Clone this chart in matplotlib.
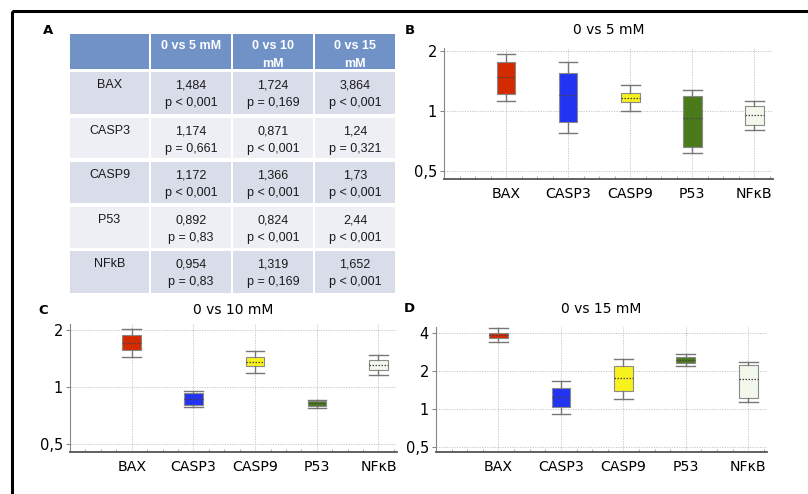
import matplotlib
matplotlib.use("Agg")
import matplotlib.pyplot as plt
from matplotlib.patches import Rectangle
from matplotlib.ticker import FixedLocator, FixedFormatter, MultipleLocator

# ---------------- data ----------------
genes = ["BAX", "CASP3", "CASP9", "P53", "NFκB"]
table_rows = ["BAX", "CASP3", "CASP9", "P53", "NFkB"]
table_headers = [["0 vs 5 mM"], ["0 vs 10", "mM"], ["0 vs 15", "mM"]]
fold_5 = ["1,484", "1,174", "1,172", "0,892", "0,954"]
pval_5 = ["p < 0,001", "p = 0,661", "p < 0,001", "p = 0,83", "p = 0,83"]
fold_10 = ["1,724", "0,871", "1,366", "0,824", "1,319"]
pval_10 = ["p = 0,169", "p < 0,001", "p < 0,001", "p < 0,001", "p = 0,169"]
fold_15 = ["3,864", "1,24", "1,73", "2,44", "1,652"]
pval_15 = ["p < 0,001", "p = 0,321", "p < 0,001", "p < 0,001", "p < 0,001"]

# box stats per panel: whisker low, q1, median, q3, whisker high
b_wlo = [1.12, 0.775, 1.00, 0.616, 0.80]
b_q1 = [1.22, 0.886, 1.11, 0.66, 0.85]
b_med = [1.49, 1.20, 1.16, 0.924, 0.954]
b_q3 = [1.77, 1.56, 1.23, 1.19, 1.064]
b_whi = [1.94, 1.77, 1.35, 1.28, 1.12]

c_wlo = [1.45, 0.79, 1.19, 0.78, 1.16]
c_q1 = [1.57, 0.805, 1.29, 0.796, 1.23]
c_med = [1.72, 0.867, 1.36, 0.822, 1.31]
c_q3 = [1.88, 0.93, 1.44, 0.846, 1.40]
c_whi = [2.04, 0.96, 1.545, 0.86, 1.48]

d_wlo = [3.40, 0.92, 1.20, 2.20, 1.15]
d_q1 = [3.71, 1.05, 1.39, 2.34, 1.22]
d_med = [3.88, 1.245, 1.77, 2.46, 1.73]
d_q3 = [4.05, 1.47, 2.19, 2.58, 2.24]
d_whi = [4.43, 1.68, 2.52, 2.74, 2.38]

box_colors = ["#D42A00", "#2233F2", "#F7F21E", "#4B7A1C", "#F3F8EC"]

W, H = 808, 494
fig = plt.figure(figsize=(W / 100, H / 100), dpi=100)
fig.patch.set_facecolor("white")

# overlay axes in pixel coordinates for frame + table
ov = fig.add_axes([0, 0, 1, 1])
ov.set_xlim(0, W)
ov.set_ylim(H, 0)
ov.axis("off")
ov.add_patch(Rectangle((12, 11), W, H, fill=False, ec="black", lw=2.2))

# ---------------- table (panel A) ----------------
col_edges = [69, 150, 232, 314, 396]
row_edges = [(33, 70), (71, 115), (117, 159), (161, 204), (206, 249), (250, 294)]
head_col = "#7192C6"
dark = "#D8DDE9"
light = "#EDEFF5"
gap = 1.0
tfont = dict(family="Liberation Sans", fontsize=9.0)
for ci in range(4):
    x0, x1 = col_edges[ci], col_edges[ci + 1]
    for ri, (y0, y1) in enumerate(row_edges):
        if ri == 0:
            fc = head_col
        else:
            fc = dark if ri % 2 == 1 else light
        ov.add_patch(Rectangle((x0 + gap, y0 + gap), x1 - x0 - 2 * gap, y1 - y0 - 2 * gap,
                               fc=fc, ec="none"))
for ci, hdr in enumerate(table_headers):
    xc = (col_edges[ci + 1] + col_edges[ci + 2]) / 2
    for li, line in enumerate(hdr):
        ov.text(xc, 46 + li * 18, line, ha="center", va="center", color="white",
                fontweight="bold", **tfont)
table_cols = [(fold_5, pval_5), (fold_10, pval_10), (fold_15, pval_15)]
for ri, name in enumerate(table_rows):
    y0 = row_edges[ri + 1][0]
    ov.text((col_edges[0] + col_edges[1]) / 2, y0 + 14, name, ha="center", va="center",
            color="#1a1a1a", **tfont)
    for ci, (fv, pv) in enumerate(table_cols):
        xc = (col_edges[ci + 1] + col_edges[ci + 2]) / 2
        ov.text(xc, y0 + 14, fv[ri], ha="center", va="center", color="#1a1a1a", **tfont)
        ov.text(xc, y0 + 32, pv[ri], ha="center", va="center", color="#1a1a1a", **tfont)

lab = dict(fontsize=9.5, fontweight="bold", ha="center", va="center")
ov.text(48, 30, "A", **lab)
ov.text(410, 30, "B", **lab)
ov.text(43, 310, "C", **lab)
ov.text(409, 308, "D", **lab)


def panel(rect_px, title, title_y, wlo, q1, med, q3, whi, ylim, yticks, ylabels):
    l, r, t, b = rect_px
    ax = fig.add_axes([l / W, 1 - b / H, (r - l) / W, (b - t) / H])
    stats = []
    for i in range(len(genes)):
        stats.append(dict(whislo=wlo[i], q1=q1[i], med=med[i], q3=q3[i], whishi=whi[i],
                          fliers=[], label=genes[i]))
    pos = list(range(1, len(genes) + 1))
    bp = ax.bxp(stats, positions=pos, widths=0.3, patch_artist=True, showfliers=False,
                boxprops=dict(lw=0.8, edgecolor="#8a8a8a"),
                whiskerprops=dict(lw=1.0, color="#777777"),
                capprops=dict(lw=1.0, color="#777777"),
                medianprops=dict(lw=0.9, color="#444444", ls=(0, (1.2, 1.2))),
                capwidths=0.3, zorder=3)
    for patch, c in zip(bp["boxes"], box_colors):
        patch.set_facecolor(c)
    ax.set_yscale("log")
    ax.set_ylim(*ylim)
    ax.set_xlim(0, 5.3)
    ax.yaxis.set_major_locator(FixedLocator(yticks))
    ax.yaxis.set_major_formatter(FixedFormatter(ylabels))
    ax.yaxis.set_minor_locator(FixedLocator([]))
    ax.set_xticks(pos)
    ax.set_xticklabels(genes)
    ax.xaxis.set_minor_locator(MultipleLocator(0.25))
    ax.grid(True, which="major", color="#c8c8c8", ls=(0, (1.3, 1.3)), lw=0.7)
    ax.set_axisbelow(True)
    for s in ["top", "right"]:
        ax.spines[s].set_visible(False)
    ax.spines["left"].set_color("#888888")
    ax.spines["bottom"].set_color("#555555")
    ax.spines["bottom"].set_linewidth(1.3)
    ax.tick_params(axis="y", length=3, color="#888888", labelsize=10.5, pad=2)
    ax.tick_params(axis="x", length=0, labelsize=10.2, pad=6)
    ax.tick_params(axis="x", which="minor", direction="in", length=2.5, color="#999999")
    ov.text((l + r) / 2, title_y, title, ha="center", va="center", fontsize=10)
    return ax


panel((444, 773, 48, 179), "0 vs 5 mM", 30, b_wlo, b_q1, b_med, b_q3, b_whi,
      (0.455, 2.08), [0.5, 1, 2], ["0,5", "1", "2"])
panel((70, 397, 324, 452), "0 vs 10 mM", 310, c_wlo, c_q1, c_med, c_q3, c_whi,
      (0.454, 2.16), [0.5, 1, 2], ["0,5", "1", "2"])
panel((436, 767, 327, 452), "0 vs 15 mM", 309, d_wlo, d_q1, d_med, d_q3, d_whi,
      (0.457, 4.5), [0.5, 1, 2, 4], ["0,5", "1", "2", "4"])

fig.savefig("out.png", dpi=100, facecolor="white")
